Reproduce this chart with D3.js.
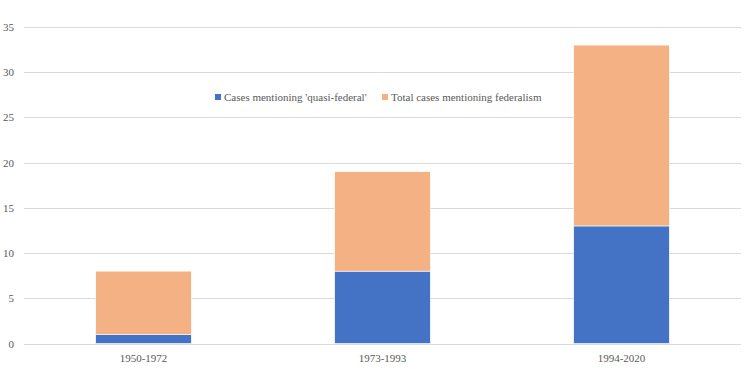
<!DOCTYPE html>
<html>
<head>
<meta charset="utf-8">
<script src="https://cdn.jsdelivr.net/npm/d3@7"></script>
<style>
  body { margin: 0; background: #fff; }
</style>
</head>
<body>
<div id="chart"></div>
<script>
var periods = ["1950-1972", "1973-1993", "1994-2020"];
var quasiFederal = [1, 8, 13];
var totalFederalism = [7, 11, 20];
var yTicks = [0, 5, 10, 15, 20, 25, 30, 35];
var seriesNames = ["Cases mentioning 'quasi-federal'", "Total cases mentioning federalism"];
var colors = ["#4472c4", "#f4b183"];

var width = 750, height = 375;
var margin = { top: 27, right: 9, bottom: 31.5, left: 24 };
var fontStack = "'Liberation Serif', 'Times New Roman', Times, 'DejaVu Serif', serif";

var svg = d3.select("#chart").append("svg")
    .attr("width", width)
    .attr("height", height)
    .attr("font-family", fontStack);

var x = d3.scaleBand()
    .domain(periods)
    .range([margin.left, width - margin.right])
    .paddingInner(0.6)
    .paddingOuter(0.3);

var y = d3.scaleLinear()
    .domain([0, 35])
    .range([height - margin.bottom, margin.top]);

// gridlines
svg.append("g")
    .selectAll("line")
    .data(yTicks)
    .enter().append("line")
    .attr("x1", margin.left)
    .attr("x2", width - margin.right)
    .attr("y1", function (d) { return Math.round(y(d)) + 0.5; })
    .attr("y2", function (d) { return Math.round(y(d)) + 0.5; })
    .attr("stroke", "#d9d9d9")
    .attr("stroke-width", 1);

// y axis labels
svg.append("g")
    .selectAll("text")
    .data(yTicks)
    .enter().append("text")
    .attr("x", 14)
    .attr("y", function (d) { return y(d) + 4; })
    .attr("text-anchor", "end")
    .attr("font-family", fontStack)
    .attr("font-size", 11)
    .attr("fill", "#595959")
    .text(function (d) { return d; });

// stacked data
var rows = periods.map(function (p, i) {
    return { period: p, quasi: quasiFederal[i], total: totalFederalism[i] };
});
var stack = d3.stack().keys(["quasi", "total"]);
var layers = stack(rows);

svg.append("g")
    .selectAll("g")
    .data(layers)
    .enter().append("g")
    .attr("fill", function (d, i) { return colors[i]; })
    .selectAll("rect")
    .data(function (d) { return d; })
    .enter().append("rect")
    .attr("x", function (d) { return x(d.data.period); })
    .attr("width", x.bandwidth())
    .attr("y", function (d) { return y(d[1]); })
    .attr("height", function (d) { return y(d[0]) - y(d[1]); })
    .attr("stroke", "#ffffff")
    .attr("stroke-width", 0.6);

// x axis labels
svg.append("g")
    .selectAll("text")
    .data(periods)
    .enter().append("text")
    .attr("x", function (d) { return x(d) + x.bandwidth() / 2; })
    .attr("y", 362)
    .attr("text-anchor", "middle")
    .attr("font-family", fontStack)
    .attr("font-size", 11)
    .attr("fill", "#595959")
    .text(function (d) { return d; });

// legend
var legendX = [215, 382];
var legend = svg.append("g");
seriesNames.forEach(function (name, i) {
    legend.append("rect")
        .attr("x", legendX[i])
        .attr("y", 94)
        .attr("width", 6)
        .attr("height", 6)
        .attr("fill", colors[i]);
    legend.append("text")
        .attr("x", legendX[i] + 9)
        .attr("y", 101)
        .attr("font-family", fontStack)
        .attr("font-size", 11)
        .attr("fill", "#595959")
        .text(name);
});
</script>
</body>
</html>
